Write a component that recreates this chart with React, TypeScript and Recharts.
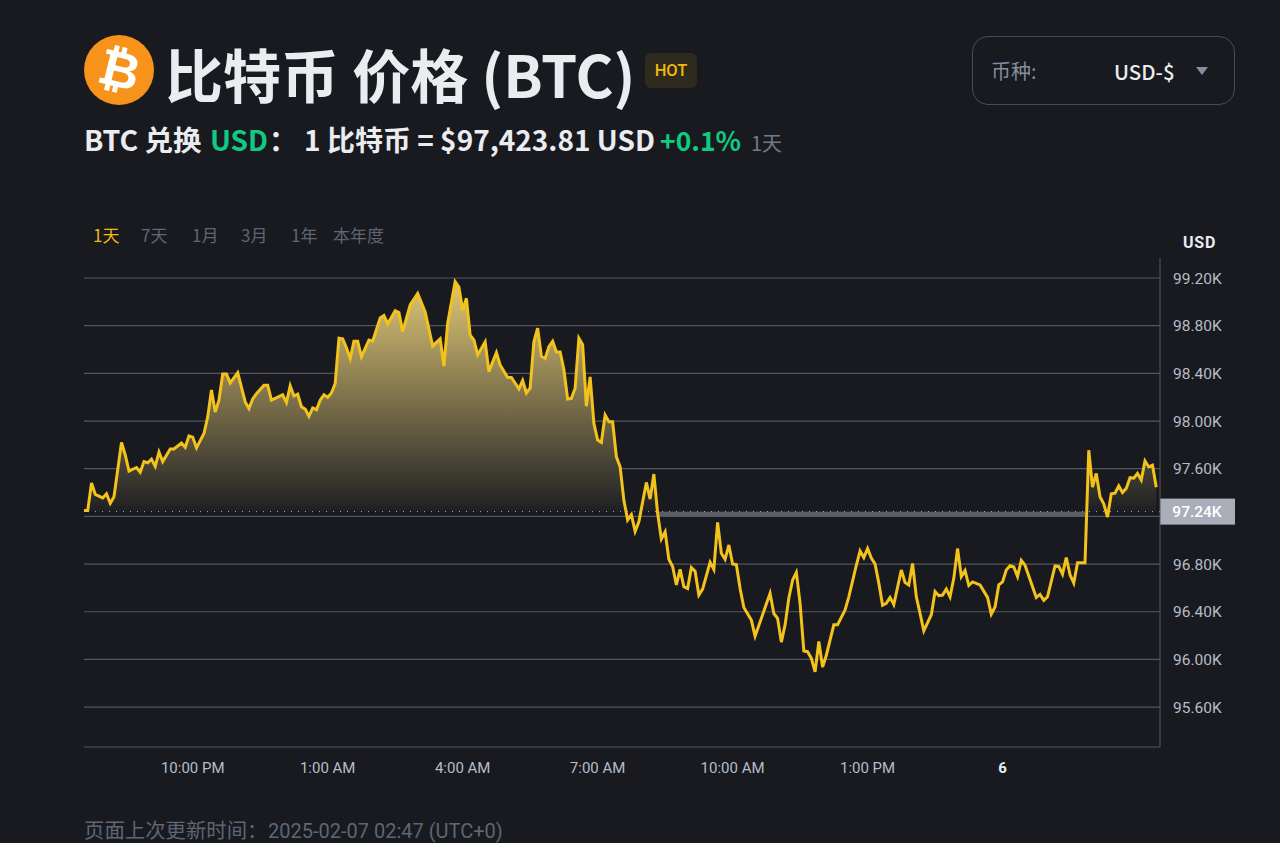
import React from "react";
import {
  AreaChart,
  Area,
  XAxis,
  YAxis,
  CartesianGrid,
  ReferenceLine,
  ReferenceArea,
} from "recharts";

// x position in 5-minute steps from the start of the 1-day window
const steps = [
  0,1,2,3,4,5,6,7,8,10,11,12,14,15,16,17,18,19,20,21,23,24,26,27,28,29,30,32,33,34,35,36,37,38,39,41,43,44,45,46,48,49,50,53,54,55,56,57,58,59,
  60,61,62,63,64,65,66,67,68,69,70,71,72,73,74,76,77,79,80,81,83,84,85,87,89,91,93,95,96,97,99,100,101,102,103,104,105,107,108,110,111,113,114,116,117,118,119,120,121,122,
  123,124,125,126,127,128,129,130,131,132,133,134,135,136,137,138,139,140,141,142,143,144,145,146,147,148,150,151,152,153,154,155,156,157,158,159,160,161,162,163,164,165,167,168,169,170,171,172,173,174,
  175,176,178,179,183,184,185,186,187,188,189,190,191,192,193,194,195,196,197,198,200,201,203,204,206,207,208,209,210,211,212,213,214,215,216,218,219,220,221,222,223,224,226,227,228,229,230,231,232,233,
  234,235,236,237,239,241,242,243,244,245,246,247,248,249,250,251,254,255,256,257,259,260,261,262,263,264,265,267,268,269,270,271,272,273,274,275,276,277,278,279,280,281,282,283,284,285,286,
];
const prices = [
  97250,97250,97480,97385,97370,97355,97390,97310,97365,97820,97715,97580,97610,97570,97660,97650,97680,97620,97740,97660,97765,97765,97815,97780,97875,97865,97775,97895,98035,98260,98075,98175,98395,98395,98320,98405,98160,98105,98185,98230,98300,98300,98175,98220,98155,98295,98210,98225,98120,98100,
  98040,98110,98095,98175,98220,98200,98235,98315,98695,98690,98615,98525,98670,98670,98540,98680,98670,98865,98885,98815,98925,98910,98750,98975,99070,98915,98630,98690,98460,98820,99170,99125,98930,99030,98720,98680,98555,98665,98415,98575,98470,98365,98365,98270,98340,98235,98275,98665,98780,98545,
  98525,98625,98670,98580,98580,98430,98185,98190,98275,98695,98640,98125,98370,97980,97840,97820,98050,97995,97995,97700,97615,97335,97170,97215,97075,97155,97485,97345,97555,97225,97010,97070,96840,96780,96625,96755,96610,96595,96770,96740,96540,96590,96815,96755,97150,96890,96840,96960,96800,96795,
  96595,96435,96330,96195,96555,96385,96345,96145,96290,96515,96665,96730,96470,96070,96065,96010,95895,96150,95935,96035,96290,96290,96415,96525,96790,96910,96855,96930,96850,96800,96640,96455,96470,96520,96460,96750,96645,96625,96805,96525,96385,96240,96375,96570,96535,96540,96590,96525,96680,96930,
  96695,96745,96620,96650,96625,96520,96380,96440,96625,96650,96750,96785,96775,96695,96830,96790,96520,96545,96495,96525,96785,96780,96715,96855,96710,96640,96810,96810,97755,97445,97560,97365,97305,97195,97390,97395,97455,97400,97435,97525,97520,97560,97505,97665,97615,97630,97445,
];

const xTicks = [29, 65, 101, 137, 173, 209, 245];
const xLabels = ["10:00 PM", "1:00 AM", "4:00 AM", "7:00 AM", "10:00 AM", "1:00 PM", "6"];
const yTicks = [95600, 96000, 96400, 96800, 97200, 97600, 98000, 98400, 98800, 99200];
const openPrice = 97240;
const ranges = ["1天", "7天", "1月", "3月", "1年", "本年度"];
const rangeLefts = [93, 141, 192, 241, 291, 333];

const data = steps.map((step, i) => ({ step, price: prices[i] }));

const SANS = "'Roboto', 'Noto Sans CJK SC', sans-serif";
const CJK = "'Noto Sans CJK SC', 'Noto Sans', sans-serif";
const BG = "#181A20";
const YELLOW = "#F0B90B";
const GREEN = "#0ECB81";

const fmtY = (v: number) => (v === 97200 ? "" : `${(v / 1000).toFixed(2)}K`);

function XTick(props: any) {
  const { x, y, payload } = props;
  const label = xLabels[xTicks.indexOf(payload.value)];
  const bold = label === "6";
  return (
    <text
      x={x}
      y={y + 18}
      textAnchor="middle"
      fontFamily={SANS}
      fontSize={15}
      fontWeight={bold ? 700 : 400}
      fill={bold ? "#EAECEF" : "#B7BDC6"}
    >
      {label}
    </text>
  );
}

function PriceTag(props: any) {
  const { viewBox } = props;
  const right = viewBox.x + viewBox.width;
  const cy = viewBox.y;
  return (
    <g>
      <rect x={right} y={cy - 13} width={75} height={26} fill="#A9AEBA" />
      <text x={right + 37} y={cy + 5.5} textAnchor="middle" fontFamily={SANS} fontSize={15.5} fontWeight={500} fill="#FFFFFF">
        97.24K
      </text>
    </g>
  );
}

const abs = (left: number, top: number, extra: React.CSSProperties = {}): React.CSSProperties => ({
  position: "absolute",
  left,
  top,
  whiteSpace: "pre",
  ...extra,
});

export default function App() {
  return (
    <div style={{ position: "absolute", left: 0, top: 0, width: 1280, height: 843, background: BG, overflow: "hidden", fontFamily: CJK }}>
      <div
        style={abs(84, 35, {
          width: 70,
          height: 70,
          borderRadius: 35,
          background: "#F7931A",
          color: "#FFFFFF",
          textAlign: "center",
          lineHeight: "70px",
          fontSize: 50,
          fontWeight: 700,
          fontFamily: "'Roboto', 'DejaVu Sans', sans-serif",
        })}
      >
        <span style={{ display: "inline-block", transform: "rotate(14deg)" }}>₿</span>
      </div>
      <div style={abs(165, 32, { fontSize: 58, fontWeight: 700, color: "#EAECEF", lineHeight: "82px" })}>比特币 价格 (BTC)</div>
      <div style={abs(645, 53, { width: 52, height: 35, borderRadius: 6, background: "#2E2A1E", color: YELLOW, fontSize: 16.5, fontWeight: 500, textAlign: "center", lineHeight: "36px", fontFamily: SANS })}>HOT</div>

      <div style={abs(84, 121, { fontSize: 28.5, fontWeight: 700, color: "#EAECEF", lineHeight: "36px" })}>BTC 兑换</div>
      <div style={abs(210, 121, { fontSize: 28, fontWeight: 700, color: GREEN, lineHeight: "36px" })}>USD</div>
      <div style={abs(269, 121, { fontSize: 28, fontWeight: 700, color: "#EAECEF", lineHeight: "36px" })}>：</div>
      <div style={abs(304, 121, { fontSize: 28, fontWeight: 700, color: "#EAECEF", lineHeight: "36px" })}>1 比特币 = $97,423.81 USD</div>
      <div style={abs(660, 122, { fontSize: 26.5, fontWeight: 700, color: GREEN, lineHeight: "36px" })}>+0.1%</div>
      <div style={abs(751, 128, { fontSize: 20, color: "#707A8A", lineHeight: "30px" })}>1天</div>

      <div style={abs(972, 36, { width: 261, height: 67, border: "1.5px solid #474D57", borderRadius: 16 })} />
      <div style={abs(991, 57, { fontSize: 20, color: "#848E9C", lineHeight: "28px" })}>币种:</div>
      <div style={abs(1114, 57, { fontSize: 20.5, fontWeight: 500, color: "#EAECEF", lineHeight: "28px" })}>USD-$</div>
      <svg style={abs(1195, 66)} width={14} height={10}>
        <path d="M1 1 H13 L7 9 Z" fill="#848E9C" />
      </svg>

      {ranges.map((r, i) => (
        <div key={r} style={abs(rangeLefts[i], 223, { fontSize: 17, lineHeight: "24px", color: i === 0 ? YELLOW : "#5E6673" })}>
          {r}
        </div>
      ))}
      <div style={abs(1183, 232, { fontSize: 16, fontWeight: 700, letterSpacing: 0.8, color: "#EAECEF", lineHeight: "22px", fontFamily: SANS })}>USD</div>

      <div style={{ position: "absolute", left: 0, top: 0 }}>
        <AreaChart width={1280} height={843} data={data} margin={{ top: 258, right: 0, bottom: 0, left: 84 }}>
          <defs>
            <linearGradient id="btcFill" gradientUnits="userSpaceOnUse" x1="0" y1="282" x2="0" y2="512">
              <stop offset="0%" stopColor="#DFC675" stopOpacity={1} />
              <stop offset="100%" stopColor="#1E1F23" stopOpacity={1} />
              <stop offset="100%" stopColor="#1E1F23" stopOpacity={0} />
            </linearGradient>
          </defs>
          <CartesianGrid horizontal vertical={false} stroke="#53565D" strokeWidth={1.2} horizontalValues={yTicks} />
          <XAxis
            dataKey="step"
            type="number"
            domain={[0, 287]}
            ticks={xTicks}
            height={96}
            tick={<XTick />}
            tickLine={false}
            axisLine={{ stroke: "#53565D" }}
            interval={0}
          />
          <YAxis
            orientation="right"
            width={120}
            domain={[95265, 99368]}
            ticks={yTicks}
            tickFormatter={fmtY}
            interval={0}
            tickLine={false}
            axisLine={{ stroke: "#53565D" }}
            tick={{ fill: "#B7BDC6", fontSize: 15.5, fontFamily: SANS, dx: 5 }}
          />
          <ReferenceArea x1={153} x2={267} y1={97200} y2={97240} fill="#5A5D64" fillOpacity={1} stroke="none" />
          <Area
            type="linear"
            dataKey="price"
            baseValue={openPrice}
            stroke="#F3C21B"
            strokeWidth={3}
            fill="url(#btcFill)"
            fillOpacity={1}
            dot={false}
            activeDot={false}
            isAnimationActive={false}
          />
          <ReferenceLine y={openPrice} stroke="#AEB4BC" strokeWidth={1} strokeDasharray="1 6" label={<PriceTag />} />
        </AreaChart>
      </div>

      <div style={abs(84, 819, { fontSize: 20.4, color: "#5E6673", lineHeight: "24px", fontFamily: "'Liberation Sans', 'Noto Sans CJK SC', sans-serif" })}>页面上次更新时间：</div>
      <div style={abs(268, 819, { fontSize: 20, color: "#5E6673", lineHeight: "24px", fontFamily: SANS })}>2025-02-07 02:47 (UTC+0)</div>
    </div>
  );
}
